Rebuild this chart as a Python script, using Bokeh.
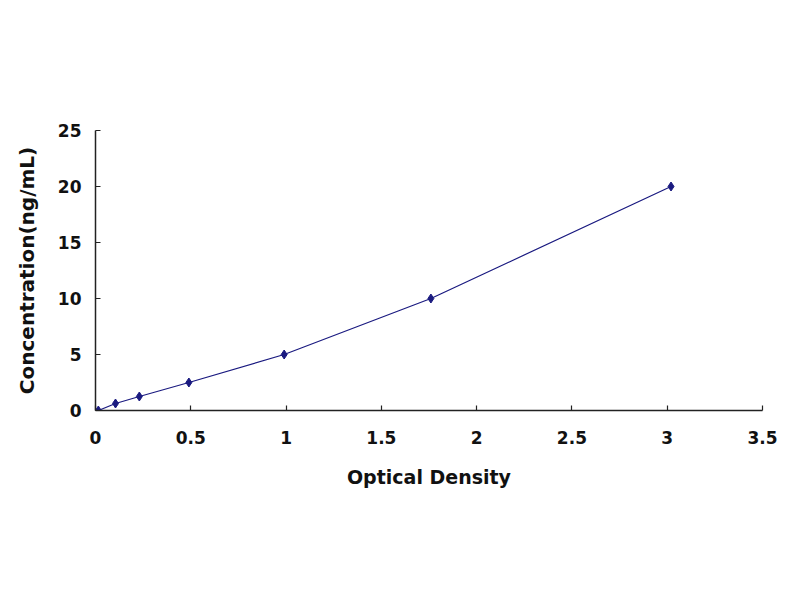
from bokeh.plotting import figure
from bokeh.embed import file_html
from bokeh.resources import INLINE
from bokeh.models import Range1d, FixedTicker

# Data
optical_density = [0.015, 0.105, 0.23, 0.49, 0.99, 1.76, 3.02]
concentration = [0.0, 0.625, 1.25, 2.5, 5.0, 10.0, 20.0]

x_ticks = [0, 0.5, 1, 1.5, 2, 2.5, 3, 3.5]
x_tick_labels = ["0", "0.5", "1", "1.5", "2", "2.5", "3", "3.5"]
y_ticks = [0, 5, 10, 15, 20, 25]
y_tick_labels = ["0", "5", "10", "15", "20", "25"]

FONT = "DejaVu Sans"
NAVY = "#1a1a80"

p = figure(width=792, height=592, output_backend="svg", toolbar_location=None,
           x_range=Range1d(0, 3.5), y_range=Range1d(0, 25),
           min_border_left=95, min_border_right=30, min_border_top=130, min_border_bottom=182)

p.outline_line_color = None
p.xgrid.grid_line_color = None
p.ygrid.grid_line_color = None
p.background_fill_color = "white"
p.border_fill_color = "white"

p.line(optical_density, concentration, line_color=NAVY, line_width=1.2)
p.scatter(optical_density, concentration, marker="diamond", size=9,
          fill_color=NAVY, line_color=NAVY)

for ax, ticks, labels in ((p.xaxis[0], x_ticks, x_tick_labels), (p.yaxis[0], y_ticks, y_tick_labels)):
    ax.ticker = FixedTicker(ticks=ticks)
    ax.major_label_overrides = {t: l for t, l in zip(ticks, labels)}
    ax.minor_tick_line_color = None
    ax.major_tick_in = 5
    ax.major_tick_out = 0
    ax.axis_line_color = "#222222"
    ax.axis_line_width = 1.5
    ax.major_tick_line_color = "#222222"
    ax.major_tick_line_width = 1.2
    ax.major_label_text_font = FONT
    ax.major_label_text_font_style = "bold"
    ax.major_label_text_font_size = "17px"
    ax.major_label_text_color = "#111111"
    ax.axis_label_text_font = FONT
    ax.axis_label_text_font_style = "bold"
    ax.axis_label_text_color = "#111111"

p.xaxis.axis_label = "Optical Density"
p.xaxis.axis_label_text_font_size = "19px"
p.xaxis.major_label_standoff = 20
p.xaxis.axis_label_standoff = 19

p.yaxis.axis_label = "Concentration(ng/mL)"
p.yaxis.axis_label_text_font_size = "20px"
p.yaxis.major_label_standoff = 14
p.yaxis.axis_label_standoff = 16

open("out.html", "w").write(file_html(p, INLINE))
